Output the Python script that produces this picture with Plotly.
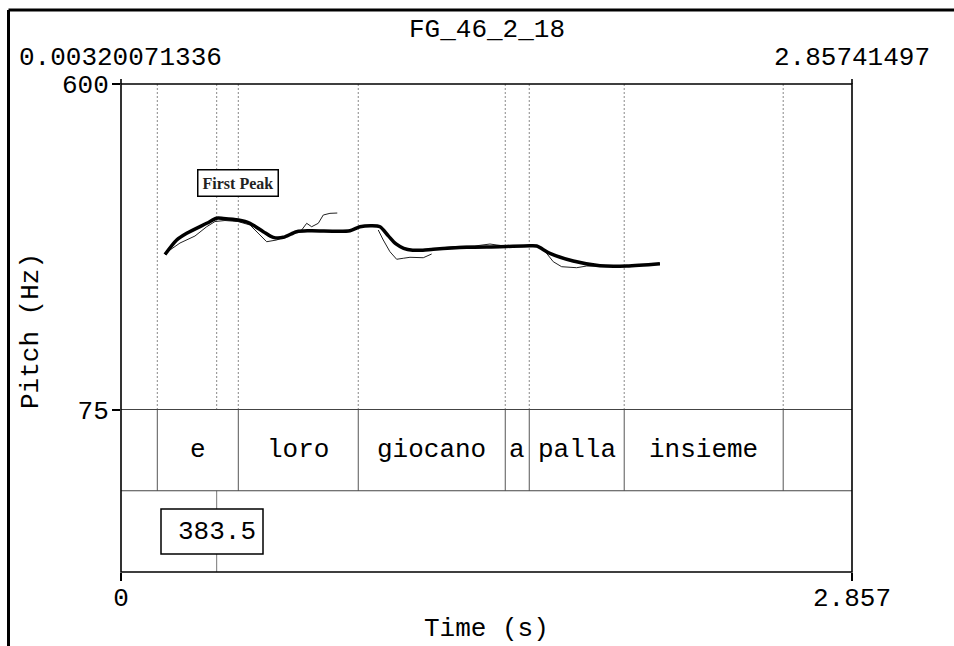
import plotly.graph_objects as go

# ---- data -------------------------------------------------------------
title_text = "FG_46_2_18"
view_start_label = "0.00320071336"
view_end_label = "2.85741497"
t_min, t_max = 0.0, 2.85741497
f_min, f_max = 75, 600

# raw pitch track (s, Hz); None marks unvoiced gaps
raw_time = [0.172, 0.1915, 0.2306, 0.2892, 0.3349, 0.3674, 0.4065, 0.4573, 0.5042, 0.5433,
            0.5694, 0.6085, 0.6605, 0.7062, 0.7258, 0.7453, 0.7711, 0.7907, 0.8168, 0.8454,
            None,
            1.0056, 1.0251, 1.0513, 1.0775, 1.1033, 1.1295, 1.1815, 1.2143,
            None,
            1.2468, 1.3054, 1.3835, 1.4421, 1.4695, 1.5203, 1.5985, 1.6376, 1.6638, 1.6896,
            1.7224, 1.7811, 1.8201, 1.8525, 1.9111, 1.9893, 2.0479, 2.1066]
raw_hz = [324.2, 332.3, 343.5, 354.8, 369.8, 378.2, 379.8, 378.2, 372.6, 356.4,
          345.6, 348.4, 356.4, 364.5, 375.3, 369.8, 375.3, 388.7, 391.4, 391.9,
          None,
          364.5, 348.4, 329.5, 317.3, 318.9, 320.5, 319.8, 325.8,
          None,
          335.5, 337.9, 338.7, 341.9, 340.3, 337.9, 339.5, 337.1, 326.9, 313.4,
          305.3, 303.7, 306.4, 306.4, 306.0, 306.5, 308.1, 310.5]

# smoothed pitch contour (s, Hz)
smooth_time = [0.172, 0.2177, 0.2568, 0.3349, 0.374, 0.40, 0.4584, 0.5042, 0.5562, 0.5952,
               0.6343, 0.6867, 0.7387, 0.8950, 0.9341, 0.9798, 1.0123, 1.045, 1.075, 1.105,
               1.14, 1.18, 1.2206, 1.3511, 1.4813, 1.5985, 1.6247, 1.6766, 1.7678, 1.8720,
               1.9764, 2.1066]
smooth_hz = [325.0, 348.4, 359.2, 375.3, 383.5, 383.0, 380.5, 375.3, 361.8, 352.7,
             352.7, 361.8, 363.4, 363.4, 369.8, 371.5, 369.8, 355.0, 342.0, 335.0,
             332.0, 332.0, 333.4, 336.6, 337.6, 339.2, 338.7, 326.9, 314.5, 306.9,
             306.5, 310.2]

# word tier
word_bounds = [0.0, 0.1419, 0.4585, 0.9274, 1.502, 1.5958, 1.967, 2.5885, 2.85741497]
word_labels = ["", "e", "loro", "giocano", "a", "palla", "insieme", ""]

# point tier
peak_time = 0.374
peak_hz = 383.5
peak_label = "First Peak"

# ---- layout helpers (pixel geometry of the drawing) -------------------
W, H = 954, 646
PX_L, PX_R = 121, 852
PY_TOP, PY_75, PY_TIER, PY_BOT = 84, 409.5, 490.75, 572


def px(x):
    return x / W


def py(y):
    return 1 - y / H


MONO = "Liberation Mono, Courier New, monospace"
SERIF = "Liberation Serif, Times New Roman, serif"
FS = 26
DOTS = "1px,3px"

fig = go.Figure()

fig.add_trace(go.Scatter(x=raw_time, y=raw_hz, mode="lines", connectgaps=False,
                         line=dict(color="#222", width=1), hoverinfo="skip",
                         showlegend=False))
fig.add_trace(go.Scatter(x=smooth_time, y=smooth_hz, mode="lines",
                         line=dict(color="black", width=3.5, shape="spline", smoothing=0.8),
                         hoverinfo="skip", showlegend=False))

shapes = []
# interval boundaries: dotted in pitch area, solid in the tier
for b in word_bounds[1:-1]:
    shapes.append(dict(type="line", xref="x", yref="y", x0=b, x1=b, y0=f_min, y1=f_max,
                       line=dict(color="#111", width=1, dash=DOTS), layer="below"))
    shapes.append(dict(type="line", xref="x", yref="y2", x0=b, x1=b, y0=1, y1=2,
                       line=dict(color="#555", width=1)))
# point marker: dotted in pitch area
shapes.append(dict(type="line", xref="x", yref="y", x0=peak_time, x1=peak_time,
                   y0=f_min, y1=f_max, line=dict(color="#111", width=1, dash=DOTS),
                   layer="below"))

# point tier: stem with boxed value label
box_top, box_bot = 509, 554
shapes.append(dict(type="line", xref="x", yref="paper", x0=peak_time, x1=peak_time,
                   y0=py(PY_TIER), y1=py(box_top), line=dict(color="#777", width=1)))
shapes.append(dict(type="line", xref="x", yref="paper", x0=peak_time, x1=peak_time,
                   y0=py(box_bot), y1=py(PY_BOT), line=dict(color="#777", width=1)))
shapes.append(dict(type="rect", xref="paper", yref="paper", x0=px(161), x1=px(263),
                   y0=py(box_bot), y1=py(box_top), line=dict(color="black", width=1.5),
                   fillcolor="white"))

# tier separators
shapes.append(dict(type="line", xref="paper", yref="paper", x0=px(PX_L), x1=px(PX_R),
                   y0=py(PY_75), y1=py(PY_75), line=dict(color="#444", width=1)))
shapes.append(dict(type="line", xref="paper", yref="paper", x0=px(PX_L), x1=px(PX_R),
                   y0=py(PY_TIER), y1=py(PY_TIER), line=dict(color="#444", width=1)))

# plot frame
shapes.append(dict(type="rect", xref="paper", yref="paper", x0=px(PX_L), x1=px(PX_R),
                   y0=py(PY_BOT), y1=py(PY_TOP), line=dict(color="black", width=1.6)))
# small ticks above the frame at both ends
for xx in (PX_L, PX_R):
    shapes.append(dict(type="line", xref="paper", yref="paper", x0=px(xx), x1=px(xx),
                       y0=py(PY_TOP), y1=py(PY_TOP - 5), line=dict(color="black", width=1.6)))

# outer picture frame
shapes.append(dict(type="line", xref="paper", yref="paper", x0=px(8.5), x1=1.0,
                   y0=py(10), y1=py(10), line=dict(color="black", width=3)))
shapes.append(dict(type="line", xref="paper", yref="paper", x0=px(8.5), x1=px(8.5),
                   y0=py(10), y1=0.0, line=dict(color="black", width=3)))

annotations = []


def text(x, y, s, size=FS, family=MONO, xanchor="center", textangle=0, xref="paper",
         yref="paper", **kw):
    annotations.append(dict(x=x, y=y, xref=xref, yref=yref, text=s, showarrow=False,
                            xanchor=xanchor, yanchor="middle", textangle=textangle,
                            font=dict(family=family, size=size, color="black"), **kw))


text(px(486.5), py(30), title_text)
text(px(PX_L), py(58), view_start_label)
text(px(PX_R), py(58), view_end_label)
text(px(31), py(331), "Pitch (Hz)", textangle=-90)
text(px(486.5), py(629), "Time (s)")

for lab, a, b in zip(word_labels, word_bounds[:-1], word_bounds[1:]):
    if lab:
        text((a + b) / 2, 1.5, lab, xref="x", yref="y2")

text(peak_time, py(531.5), f"{peak_hz:.1f}", xref="x")

annotations.append(dict(x=0.4585, y=440, xref="x", yref="y", text=f"<b>{peak_label}</b>",
                        showarrow=False, xanchor="center", yanchor="middle",
                        font=dict(family=SERIF, size=16, color="#222"),
                        bordercolor="black", borderwidth=1.5, borderpad=4,
                        bgcolor="white"))

fig.update_layout(
    width=W, height=H, autosize=False,
    margin=dict(l=0, r=0, t=0, b=0, pad=0),
    paper_bgcolor="white", plot_bgcolor="white",
    shapes=shapes, annotations=annotations,
    xaxis=dict(domain=[px(PX_L), px(PX_R)], range=[t_min, t_max], anchor="y2",
               automargin=False,
               tickvals=[t_min, t_max], ticktext=["0", "2.857"], ticks="outside",
               ticklen=8, tickwidth=1.5, tickcolor="black", ticklabelstandoff=-6,
               tickfont=dict(family=MONO, size=FS, color="black"),
               showgrid=False, zeroline=False, showline=False),
    yaxis=dict(domain=[py(PY_75), py(PY_TOP)], range=[f_min, f_max], anchor="x",
               automargin=False,
               tickvals=[f_min, f_max], ticktext=["75", "600"], ticks="outside",
               ticklen=8, tickwidth=1.5, tickcolor="black", ticklabelstandoff=-2,
               tickfont=dict(family=MONO, size=FS, color="black"),
               showgrid=False, zeroline=False, showline=False),
    yaxis2=dict(domain=[py(PY_BOT), py(PY_75)], range=[0, 2], anchor="x",
                automargin=False,
                visible=False, showgrid=False, zeroline=False),
)

fig.write_html("out.html", config={"displayModeBar": False})
